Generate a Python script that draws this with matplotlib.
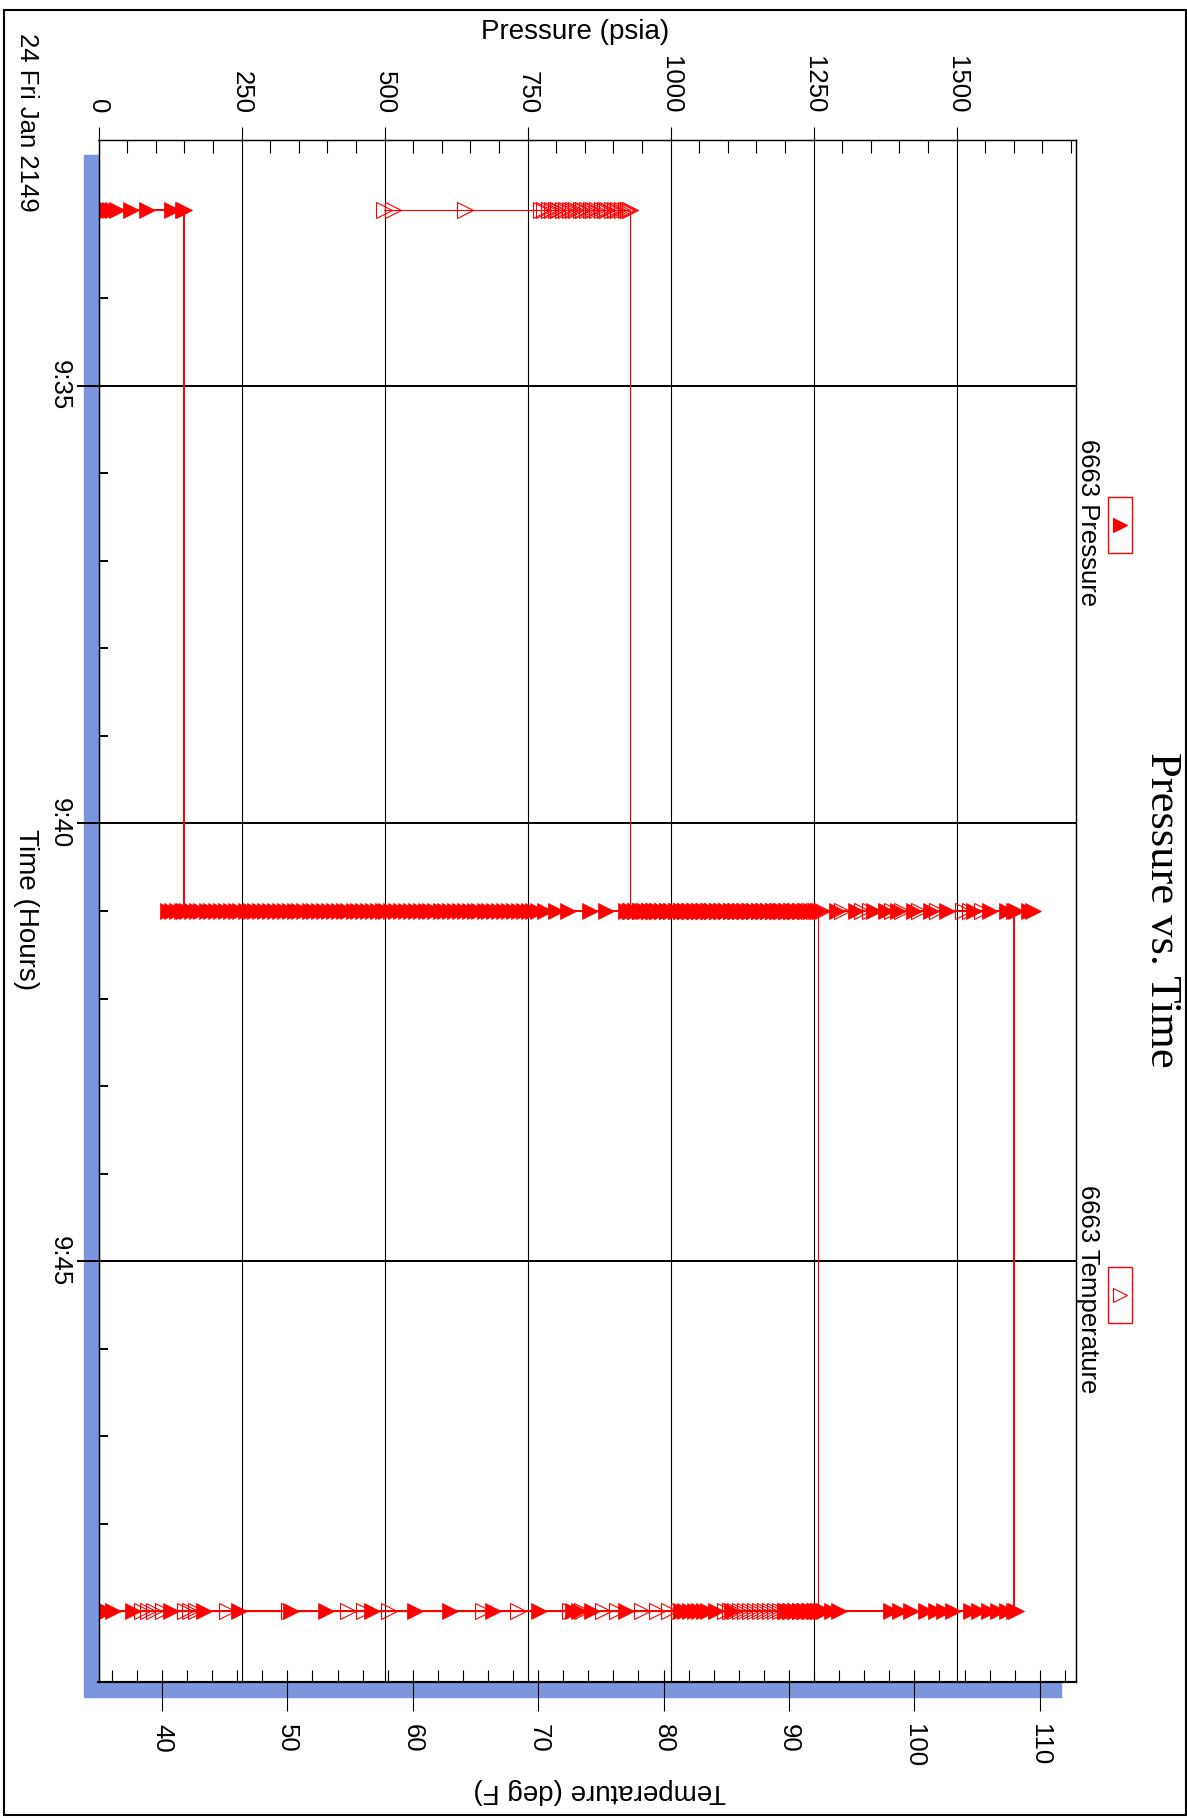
import matplotlib
matplotlib.use('Agg')
import matplotlib.pyplot as plt
from matplotlib.patches import Rectangle
from matplotlib.lines import Line2D
from matplotlib.ticker import MultipleLocator, FuncFormatter

plt.rcParams['font.family'] = ['Liberation Sans', 'DejaVu Sans']

W, H = 1187, 1818

# sample times (all readings land on three timestamps)
times = ['9:33', '9:41', '9:49']

# 6663 Pressure (psia), in logging order per timestamp
pressure_933 = [0, 2, 5, 9, 14, 20, 26, 33, 57, 84, 129, 147, 149.5]
pressure_941 = [149.5, 121, 129, 138, 146, 155, 163, 172, 180, 189, 197, 206, 214, 223,
                231, 240, 248, 257, 266, 274, 283, 291, 300, 309, 317, 326, 334, 343,
                351, 360, 369, 377, 386, 394, 403, 411, 420, 429, 437, 446, 454, 463,
                471, 480, 488, 497, 503, 512, 520, 529, 538, 546, 555, 563, 572, 580,
                589, 598, 606, 615, 623, 632, 640, 649, 658, 666, 675, 683, 692, 700,
                709, 718, 726, 735, 743, 752, 760, 768, 780, 800, 820, 860, 888, 923,
                931, 938, 946, 955, 962, 970, 978, 986, 993, 1001, 1010, 1018, 1025,
                1033, 1041, 1050, 1057, 1065, 1073, 1081, 1089, 1097, 1105, 1113, 1121,
                1129, 1137, 1146, 1154, 1162, 1170, 1179, 1187, 1195, 1203, 1212, 1220,
                1229, 1237, 1246, 1254, 1262, 1291, 1324, 1356, 1376, 1397, 1426, 1455,
                1484, 1531, 1559, 1589, 1604, 1627, 1634, 1601]
pressure_949 = [1601, 0, 12.8, 24.5, 61, 126, 184, 246, 336, 397, 479, 554, 615, 690,
                770, 830, 840, 862, 922, 1018, 1026, 1034, 1042, 1050, 1058, 1066, 1079,
                1108, 1202, 1210, 1218, 1226, 1234, 1242, 1250, 1257, 1263, 1268, 1283,
                1295, 1385, 1402, 1420, 1447, 1464, 1478, 1493, 1525, 1540, 1557, 1572,
                1589, 1604]

# 6663 Temperature (deg F)
temp_933 = [57.7, 58.4, 64.2, 70.2, 70.5, 70.9, 71.1, 71.4, 71.6, 72.0, 72.2, 72.5,
            72.8, 73.0, 73.4, 73.6, 73.9, 74.2, 74.4, 74.7, 75.1, 75.3, 75.5, 75.9,
            76.1, 76.4, 76.7, 77.0, 77.2, 77.3]
temp_941 = [77.3, 77.7, 78.1, 78.4, 78.8, 79.2, 79.5, 79.9, 80.3, 80.6, 81.0, 81.4,
            81.7, 82.1, 82.5, 82.8, 83.2, 83.6, 83.9, 84.3, 84.7, 85.0, 85.4, 85.8,
            86.1, 86.5, 86.9, 87.2, 87.6, 88.0, 88.3, 88.7, 89.1, 89.4, 89.8, 90.2,
            90.5, 90.9, 91.3, 91.6, 92.0, 92.6, 94.2, 95.8, 96.5, 98.2, 99.0, 100.4,
            101.8, 103.9, 104.4, 105.4, 92.3]
temp_949 = [92.3, 35.5, 38.4, 38.9, 39.4, 40.1, 41.8, 42.2, 42.7, 45.2, 50.1, 54.8,
            56.1, 58.1, 65.6, 68.4, 72.5, 73.5, 75.2, 76.3, 78.3, 79.5, 80.4, 81.2,
            84.9, 85.3, 85.7, 86.1, 86.5, 86.9, 87.3, 87.7, 88.1, 88.5, 88.9, 89.3,
            89.7, 90.1, 90.5, 90.9, 91.3, 91.7, 92.1, 92.6]


def minutes(s):
    h, m = s.split(':')
    return int(h) * 60 + int(m)


def series(groups):
    xs, ys = [], []
    for t, vals in zip(times, groups):
        xs += vals
        ys += [minutes(t)] * len(vals)
    return xs, ys


p_x, p_y = series([pressure_933, pressure_941, pressure_949])
t_x, t_y = series([temp_933, temp_941, temp_949])

fig = plt.figure(figsize=(W / 100, H / 100), dpi=100)


def fx(px):
    return px / W


def fy(py):
    return 1 - py / H


# plot box in pixels (from top-left)
L, R, T, B = 98.5, 1076, 139.5, 1681.5
ax = fig.add_axes([fx(L), fy(B), (R - L) / W, (B - T) / H])
ax.set_facecolor('white')

# blue drop shadow behind the plot box
fig.add_artist(Rectangle((fx(83.5), fy(1697)), (1061 - 83.5) / W, (1697 - 155) / H,
                         transform=fig.transFigure, color='#7b96dc', zorder=-5))

red = '#ff0000'
ax.plot(p_x, p_y, color=red, lw=1.4, marker='>', ms=11.5, mfc=red, mec=red, mew=0.5)

ax2 = ax.twiny()
ax2.plot(t_x, t_y, color=red, lw=0.8, marker='>', ms=11.5, mfc='none', mec=red, mew=0.8)

# pressure axis (top)
ax.set_xlim(0, 1708.9)
ax.xaxis.tick_top()
ax.xaxis.set_major_locator(MultipleLocator(250))
ax.xaxis.set_minor_locator(MultipleLocator(50))
ax.tick_params(axis='x', which='major', direction='out', length=9.5, width=0.8,
               labelsize=18.5, labelrotation=-90, pad=9, top=True, bottom=False)
ax.tick_params(axis='x', which='minor', direction='in', length=9, width=0.8,
               top=True, bottom=False)

# time axis (left, runs downward)
ax.set_ylim(589.80, 572.19)
ax.yaxis.set_major_locator(MultipleLocator(5))
ax.yaxis.set_minor_locator(MultipleLocator(1))
ax.yaxis.set_major_formatter(FuncFormatter(lambda v, p: '%d:%02d' % (int(v) // 60, int(v) % 60)))
ax.tick_params(axis='y', which='major', direction='out', length=16, width=1.4,
               labelsize=18.5, labelrotation=-90, pad=3)
ax.tick_params(axis='y', which='minor', direction='in', length=6.5, width=1.4)

ax.grid(True, axis='x', which='major', color='black', lw=0.8)
ax.grid(True, axis='y', which='major', color='black', lw=1.4)
ax.set_axisbelow(True)

# temperature axis (bottom)
ax2.set_xlim(34.94, 112.89)
ax2.xaxis.tick_bottom()
ax2.xaxis.remove_overlapping_locs = False
ax2.xaxis.set_major_locator(MultipleLocator(10))
ax2.xaxis.set_minor_locator(MultipleLocator(2))
ax2.tick_params(axis='x', which='major', direction='out', length=21, width=0.8,
                labelsize=18.5, labelrotation=-90, pad=9.5, top=False, bottom=True)
ax2.tick_params(axis='x', which='minor', direction='in', length=8.4, width=0.8,
                top=False, bottom=True)

for a in (ax, ax2):
    for side in ('top', 'left', 'right'):
        a.spines[side].set_linewidth(0.9)
    a.spines['bottom'].set_linewidth(1.5)

for lbl in ax.get_yticklabels():
    lbl.set_va('center')

# axis titles and stamp
fig.text(fx(575.5), fy(32), 'Pressure (psia)', ha='center', va='center', fontsize=20)
fig.text(fx(25.5), fy(910), 'Time (Hours)', rotation=-90, ha='center', va='center', fontsize=20)
fig.text(fx(600), fy(1791), 'Temperature (deg F)', rotation=180, ha='center', va='center', fontsize=20)
fig.text(fx(27), fy(33), '24 Fri Jan 2149', rotation=-90, ha='center', va='top', fontsize=18.5)
fig.text(fx(1162), fy(909.5), 'Pressure vs. Time', rotation=-90, ha='center', va='center',
         fontsize=32, family='Liberation Serif')

# legend entries
legend = [('6663 Pressure', 439, 524.5, red), ('6663 Temperature', 1185, 1295, 'none')]
for name, ytext, ybox, face in legend:
    fig.text(fx(1088), fy(ytext), name, rotation=-90, ha='center', va='top', fontsize=18.5)
    fig.add_artist(Rectangle((fx(1108), fy(ybox + 28)), 24 / W, 56 / H,
                             transform=fig.transFigure, fill=False, ec=red, lw=1))
    fig.add_artist(Line2D([fx(1120)], [fy(ybox)], transform=fig.transFigure, marker='>',
                          ms=9.5, mfc=face, mec=red, mew=0.8, ls='none'))

# outer frame
fig.add_artist(Rectangle((fx(3.5), fy(1815)), 1182 / W, (1815 - 9.5) / H,
                         transform=fig.transFigure, fill=False, ec='black', lw=1.5))

fig.savefig('out.png', dpi=100)
